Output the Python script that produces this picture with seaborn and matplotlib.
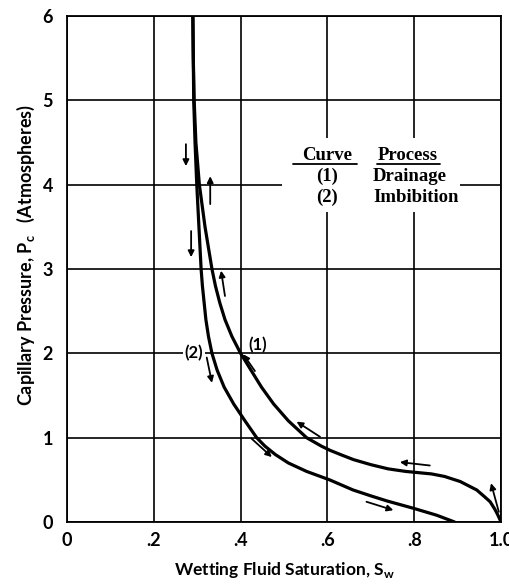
import matplotlib
matplotlib.use("Agg")
import matplotlib.pyplot as plt
from matplotlib.patches import Rectangle
import seaborn as sns
import pandas as pd

# ---- data ----
drain_sw = [0.290, 0.291, 0.293, 0.297, 0.305, 0.318, 0.334, 0.342, 0.352, 0.364,
            0.380, 0.400, 0.424, 0.448, 0.476, 0.510, 0.552, 0.586, 0.606, 0.630,
            0.660, 0.700, 0.740, 0.780, 0.810, 0.840, 0.870, 0.906, 0.944, 0.962,
            0.975, 0.986, 0.993, 1.000]
drain_pc = [6.00, 5.50, 5.00, 4.50, 4.00, 3.50, 3.00, 2.80, 2.60, 2.40,
            2.20, 2.00, 1.80, 1.60, 1.40, 1.20, 1.00, 0.90, 0.85, 0.80,
            0.74, 0.68, 0.63, 0.60, 0.585, 0.57, 0.54, 0.48, 0.38, 0.30,
            0.24, 0.15, 0.08, 0.00]
imb_sw = [0.290, 0.291, 0.292, 0.295, 0.299, 0.304, 0.309, 0.312, 0.316, 0.320,
          0.326, 0.334, 0.346, 0.362, 0.384, 0.410, 0.437, 0.456, 0.480, 0.510,
          0.552, 0.605, 0.659, 0.700, 0.737, 0.800, 0.852, 0.893]
imb_pc = [6.00, 5.50, 5.00, 4.50, 4.00, 3.50, 3.00, 2.80, 2.60, 2.40,
          2.20, 2.00, 1.80, 1.60, 1.40, 1.20, 1.00, 0.90, 0.80, 0.70,
          0.60, 0.50, 0.38, 0.31, 0.25, 0.16, 0.08, 0.00]

x_ticks = [0, 0.2, 0.4, 0.6, 0.8, 1.0]
x_tick_labels = ["0", ".2", ".4", ".6", ".8", "1.0"]
y_ticks = [0, 1, 2, 3, 4, 5, 6]
y_tick_labels = ["0", "1", "2", "3", "4", "5", "6"]

# direction arrows (tail -> head) along the curves
drain_arrows = [((0.995, 0.12), (0.977, 0.46)),
                ((0.836, 0.67), (0.767, 0.71)),
                ((0.583, 1.01), (0.529, 1.19)),
                ((0.433, 1.79), (0.406, 1.99)),
                ((0.364, 2.68), (0.355, 2.98)),
                ((0.330, 3.77), (0.330, 4.10))]
imb_arrows = [((0.274, 4.48), (0.274, 4.22)),
              ((0.286, 3.45), (0.286, 3.14)),
              ((0.322, 1.95), (0.334, 1.65)),
              ((0.425, 0.99), (0.472, 0.77)),
              ((0.690, 0.24), (0.752, 0.14))]

df_d = pd.DataFrame({"Sw": drain_sw, "Pc": drain_pc})
df_i = pd.DataFrame({"Sw": imb_sw, "Pc": imb_pc})

sns.set_theme(style="whitegrid")
plt.rcParams["font.family"] = ["Lato", "DejaVu Sans"]

fig = plt.figure(figsize=(5.09, 5.84), dpi=100)
ax = fig.add_axes([67/509, 62/584, 434/509, 506/584])
ax.set_facecolor("white")

for df in (df_d, df_i):
    sns.lineplot(data=df, x="Sw", y="Pc", sort=False, estimator=None,
                 color="black", lw=2.3, ax=ax, zorder=3)
for line in ax.lines:
    line.set_solid_joinstyle("round")
    line.set_solid_capstyle("round")

for tail, head in drain_arrows + imb_arrows:
    ax.annotate("", xy=head, xytext=tail,
                arrowprops=dict(arrowstyle="-|>", color="black", lw=1.3,
                                mutation_scale=9, shrinkA=0, shrinkB=0),
                zorder=4)

ax.set_xlim(0, 1.0)
ax.set_ylim(0, 6)
ax.set_xticks(x_ticks)
ax.set_xticklabels(x_tick_labels)
ax.set_yticks(y_ticks)
ax.set_yticklabels(y_tick_labels)
ax.tick_params(length=0, labelsize=13, colors="black")
ax.tick_params(axis="x", pad=7)
ax.tick_params(axis="y", pad=10)
for lab in ax.get_xticklabels() + ax.get_yticklabels():
    lab.set_fontweight("bold")

ax.grid(True, color="black", lw=1.2)
ax.set_axisbelow(True)
for s in ax.spines.values():
    s.set_color("black")
    s.set_linewidth(1.3)
    s.set_visible(True)

ax.set_xlabel(r"Wetting Fluid Saturation, S$_\mathregular{w}$", fontsize=12.5,
              fontweight="bold", color="black", labelpad=8)
ax.set_ylabel(r"Capillary Pressure, P$_\mathregular{c}$   (Atmospheres)", fontsize=13,
              fontweight="bold", color="black")
ax.yaxis.set_label_coords(-0.068, 0.528)

# white box behind legend text
ax.add_patch(Rectangle((0.495, 3.68), 0.411, 0.87, facecolor="white",
                       edgecolor="none", zorder=1.5))
serif = dict(family="Liberation Serif", fontweight="bold", fontsize=13.5,
             color="black", zorder=5)
ax.text(0.599, 4.29, "Curve", ha="center", va="baseline", **serif)
ax.text(0.786, 4.29, "Process", ha="center", va="baseline", **serif)
ax.text(0.600, 4.04, "(1)", ha="center", va="baseline", **serif)
ax.text(0.600, 3.80, "(2)", ha="center", va="baseline", **serif)
ax.text(0.705, 4.04, "Drainage", ha="left", va="baseline", **serif)
ax.text(0.705, 3.80, "Imbibition", ha="left", va="baseline", **serif)
ax.plot([0.521, 0.668], [4.25, 4.25], color="black", lw=1.3, zorder=5)
ax.plot([0.714, 0.859], [4.25, 4.25], color="black", lw=1.3, zorder=5)

# curve labels
ax.text(0.293, 2.0, "(2)", ha="center", va="center", fontsize=12,
        fontweight="bold", color="black", zorder=5,
        bbox=dict(facecolor="white", edgecolor="none", pad=1.5))
ax.text(0.439, 2.0, "(1)", ha="center", va="bottom", fontsize=12,
        fontweight="bold", color="black", zorder=5)

fig.savefig("out.png", dpi=100, facecolor="white")
